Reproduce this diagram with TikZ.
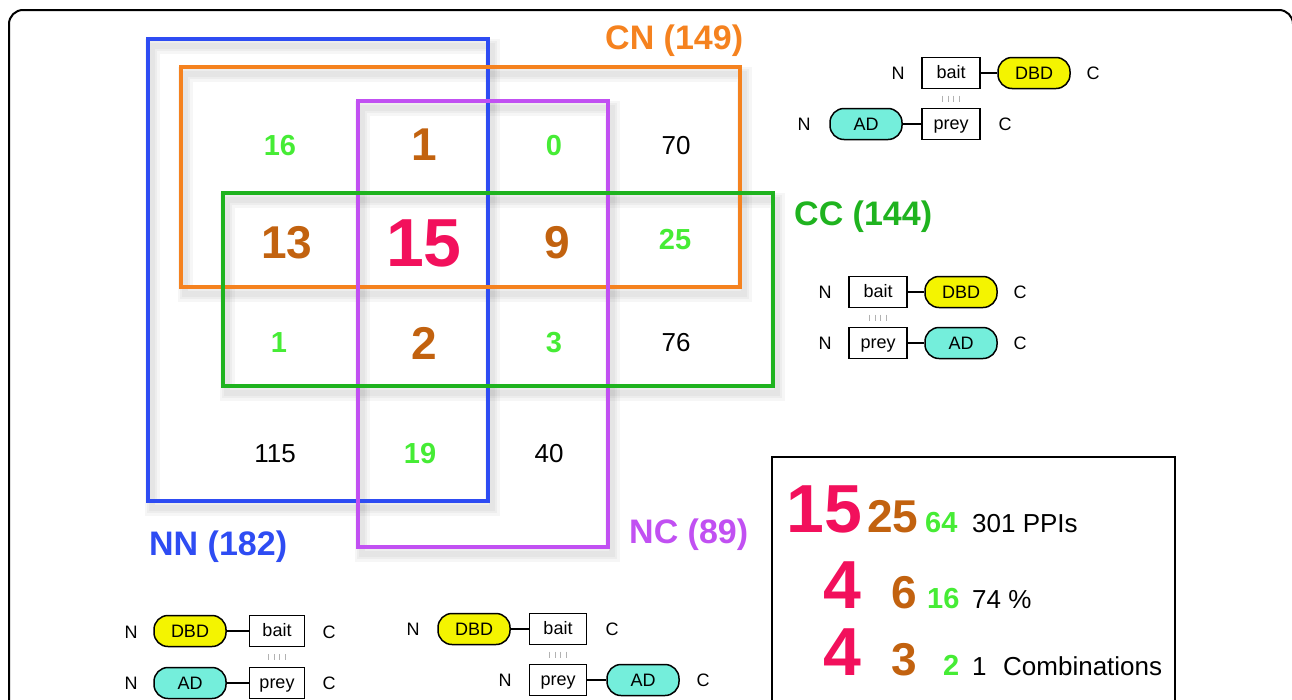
\documentclass[tikz,border=0pt]{standalone}
\usepackage{fontspec}
\setmainfont{Liberation Sans}
\usetikzlibrary{calc}

\definecolor{nnblue}{HTML}{2E4CF3}
\definecolor{cnorange}{HTML}{F5821F}
\definecolor{ncpurple}{HTML}{C150F2}
\definecolor{ccgreen}{HTML}{1FB31F}
\definecolor{numgreen}{HTML}{46EC35}
\definecolor{numbrown}{HTML}{C2620F}
\definecolor{numpink}{HTML}{F2105C}
\definecolor{pillyellow}{HTML}{F4F400}
\definecolor{pillcyan}{HTML}{74EEDB}

\newcommand{\fsz}[1]{\fontsize{#1}{#1}\selectfont}

\tikzset{
  venn/.style={line width=4},
  vennshadow/.style={line width=#1, black, opacity=0.035},
  nhuge/.style={font=\fsz{68}\bfseries, text=numpink, inner sep=0},
  nbig/.style={font=\fsz{46}\bfseries, text=numbrown, inner sep=0},
  nsmall/.style={font=\fsz{29}\bfseries, text=numgreen, inner sep=0},
  nplain/.style={font=\fsz{26}, inner sep=0},
  setlabel/.style={font=\fsz{34}\bfseries, inner sep=0, anchor=base west},
  dom/.style={draw, fill=white, line width=1.3, minimum width=58,
    minimum height=31, inner sep=0, font=\fsz{18}, text height=13, text depth=2},
  pill/.style={dom, line width=1.5, rounded corners=14, minimum width=72, text depth=0},
  term/.style={font=\fsz{18}, inner sep=0},
  link/.style={line width=1.3},
}

\begin{document}
\begin{tikzpicture}[x=1pt,y=-1pt]
  \useasboundingbox (0,0) rectangle (1292,699);
  \clip (0,0) rectangle (1292,699);
  \draw[line width=2, rounded corners=14] (9,10) rectangle (1293,760);

  % the four sets, soft shadow first
  \foreach \w in {15,10,6}{
    \draw[vennshadow=\w] (152,46) rectangle (492,508);
    \draw[vennshadow=\w] (185,74) rectangle (744,294);
    \draw[vennshadow=\w] (362,108) rectangle (612,554);
    \draw[vennshadow=\w] (227,200) rectangle (777,393);
  }
  \draw[venn, nnblue]   (148,39) rectangle (488,501);
  \draw[venn, cnorange] (181,67) rectangle (740,287);
  \draw[venn, ncpurple] (358,101) rectangle (608,547);
  \draw[venn, ccgreen]  (223,193) rectangle (773,386);

  \node[setlabel, text=cnorange] (cnlabel) at (605,49) {CN (149)};
  \node[setlabel, text=ccgreen]  (cclabel) at (794,225) {CC (144)};
  \node[setlabel, text=nnblue]   (nnlabel) at (149,555) {NN (182)};
  \node[setlabel, text=ncpurple] (nclabel) at (629,543) {NC (89)};

  % counts
  \node[nsmall] (r1a) at (280,146) {16};
  \node[nbig]   (r1b) at (424,145) {1};
  \node[nsmall] (r1c) at (554,146) {0};
  \node[nplain] (r1d) at (676,146) {70};
  \node[nbig]   (r2a) at (287,243) {13};
  \node[nhuge]  (r2b) at (424,243) {15};
  \node[nbig]   (r2c) at (557,243) {9};
  \node[nsmall] (r2d) at (675,240) {25};
  \node[nsmall] (r3a) at (279,343) {1};
  \node[nbig]   (r3b) at (424,343) {2};
  \node[nsmall] (r3c) at (554,343) {3};
  \node[nplain] (r3d) at (676,343) {76};
  \node[nplain] (r4a) at (275,454) {115};
  \node[nsmall] (r4b) at (420,454) {19};
  \node[nplain] (r4c) at (549,454) {40};

  % summary
  \draw[line width=1.5] (772,457) rectangle (1175,720);
  \node[nhuge, anchor=base west]  (s1a) at (786,532) {15};
  \node[nbig, anchor=base west]   (s1b) at (867,532) {25};
  \node[nsmall, anchor=base west] (s1c) at (925,532) {64};
  \node[nplain, anchor=base west] (s1d) at (972,532) {301 PPIs};
  \node[nhuge, anchor=base west]  (s2a) at (823,608) {4};
  \node[nbig, anchor=base west]   (s2b) at (891,608) {6};
  \node[nsmall, anchor=base west] (s2c) at (927,608) {16};
  \node[nplain, anchor=base west] (s2d) at (972,608) {74 \%};
  \node[nhuge, anchor=base west]  (s3a) at (823,675) {4};
  \node[nbig, anchor=base west]   (s3b) at (891,675) {3};
  \node[nsmall, anchor=base west] (s3c) at (943,675) {2};
  \node[nplain, anchor=base west] (s3d) at (972,675) {1};
  \node[nplain, anchor=base west] (s3e) at (1003,675) {Combinations};

  % CN construct
  \node[term] (cnn1) at (898,73) {N};
  \node[dom] (cnbait) at (951,73) {bait};
  \node[pill, fill=pillyellow] (cndbd) at (1034,73) {DBD};
  \node[term] (cnc1) at (1093,73) {C};
  \node[term] (cnn2) at (804,124) {N};
  \node[pill, fill=pillcyan] (cnad) at (866,124) {AD};
  \node[dom] (cnprey) at (951,124) {prey};
  \node[term] (cnc2) at (1005,124) {C};
  \draw[link] (cnbait) -- (cndbd);
  \draw[link] (cnad) -- (cnprey);
  \coordinate (cnmid) at ($(cnbait.south)!0.5!(cnprey.north)$);

  % CC construct
  \node[term] (ccn1) at (825,292) {N};
  \node[dom] (ccbait) at (878,292) {bait};
  \node[pill, fill=pillyellow] (ccdbd) at (961,292) {DBD};
  \node[term] (ccc1) at (1020,292) {C};
  \node[term] (ccn2) at (825,343) {N};
  \node[dom] (ccprey) at (878,343) {prey};
  \node[pill, fill=pillcyan] (ccad) at (961,343) {AD};
  \node[term] (ccc2) at (1020,343) {C};
  \draw[link] (ccbait) -- (ccdbd);
  \draw[link] (ccprey) -- (ccad);
  \coordinate (ccmid) at ($(ccbait.south)!0.5!(ccprey.north)$);

  % NN construct
  \node[term] (nnn1) at (131,632) {N};
  \node[pill, fill=pillyellow] (nndbd) at (190,631) {DBD};
  \node[dom, minimum width=55] (nnbait) at (277,631) {bait};
  \node[term] (nnc1) at (329,632) {C};
  \node[term] (nnn2) at (131,683) {N};
  \node[pill, fill=pillcyan] (nnad) at (190,683) {AD};
  \node[dom, minimum width=55] (nnprey) at (277,683) {prey};
  \node[term] (nnc2) at (329,683) {C};
  \draw[link] (nndbd) -- (nnbait);
  \draw[link] (nnad) -- (nnprey);
  \coordinate (nnmid) at ($(nnbait.south)!0.5!(nnprey.north)$);

  % NC construct
  \node[term] (ncn1) at (413,629) {N};
  \node[pill, fill=pillyellow] (ncdbd) at (474,629) {DBD};
  \node[dom, minimum width=57] (ncbait) at (558,629) {bait};
  \node[term] (ncc1) at (612,629) {C};
  \node[term] (ncn2) at (505,680) {N};
  \node[dom, minimum width=57] (ncprey) at (558,680) {prey};
  \node[pill, fill=pillcyan] (ncad) at (643,680) {AD};
  \node[term] (ncc2) at (703,680) {C};
  \draw[link] (ncdbd) -- (ncbait);
  \draw[link] (ncprey) -- (ncad);
  \coordinate (ncmid) at ($(ncbait.south)!0.5!(ncprey.north)$);

  % interaction ticks
  \foreach \m in {cnmid, ccmid, nnmid, ncmid}
    \foreach \k in {-1.5,-0.5,0.5,1.5}
      \draw[gray!60, line width=1.2] ($(\m)+(\k*5.5,-3)$) -- ++(0,6);
\end{tikzpicture}
\end{document}
